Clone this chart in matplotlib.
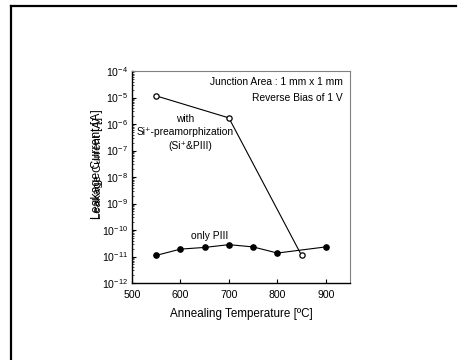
import matplotlib
matplotlib.use("Agg")
import matplotlib.pyplot as plt
from matplotlib.lines import Line2D
from matplotlib.ticker import LogLocator, NullFormatter, FixedLocator

plt.rcParams['font.family'] = ['Liberation Sans', 'DejaVu Sans']

# Data
temp_si = [550, 700, 850]
leak_si = [1.15e-5, 1.7e-6, 1.1e-11]
temp_piii = [550, 600, 650, 700, 750, 800, 900]
leak_piii = [1.1e-11, 1.9e-11, 2.2e-11, 2.8e-11, 2.3e-11, 1.35e-11, 2.3e-11]
xticks = [500, 600, 700, 800, 900]
yticks = [1e-12, 1e-11, 1e-10, 1e-9, 1e-8, 1e-7, 1e-6, 1e-5, 1e-4]

W, H = 465, 360
fig = plt.figure(figsize=(W / 100, H / 100), dpi=100)
L, R, T, B = 132, 350, 71, 283
ax = fig.add_axes([L / W, 1 - B / H, (R - L) / W, (B - T) / H])

ax.plot(temp_si, leak_si, '-o', color='black', lw=0.8, ms=3.8,
        mfc='white', mec='black', mew=0.9, zorder=3)
ax.plot(temp_piii, leak_piii, '-o', color='black', lw=0.8, ms=3.8,
        mfc='black', mec='black', zorder=2)

ax.set_yscale('log')
ax.set_xlim(500, 950)
ax.set_ylim(1e-12, 1e-4)
ax.xaxis.set_major_locator(FixedLocator(xticks))
ax.yaxis.set_major_locator(FixedLocator(yticks))
ax.yaxis.set_minor_locator(LogLocator(base=10, subs=range(2, 10), numticks=20))
ax.yaxis.set_minor_formatter(NullFormatter())
ax.tick_params(axis='both', which='both', direction='in', labelsize=7.6,
               top=False, right=False)
ax.tick_params(axis='x', which='major', pad=5)
ax.tick_params(axis='y', which='major', pad=3)
ax.tick_params(axis='both', which='major', length=3, width=0.8)
ax.tick_params(axis='y', which='minor', length=1.5, width=0.5)
for s in ['left', 'bottom']:
    ax.spines[s].set_linewidth(1.0)
for s in ['top', 'right']:
    ax.spines[s].set_color('#808080')
    ax.spines[s].set_linewidth(0.8)

ax.set_xlabel('Annealing Temperature [ºC]', fontsize=8.4, labelpad=6)

# overlapped y label as in reference
fig.text(97 / W, 1 - 219 / H, 'Leakage Current [A]', rotation=90,
         rotation_mode='anchor', ha='left', va='center', fontsize=8.8)
fig.text(98 / W, 1 - 219 / H, 'Leakage Current [A]', rotation=90,
         rotation_mode='anchor', ha='left', va='center', fontsize=8.2)

def px(x, y):
    return x / W, 1 - y / H

fig.text(*px(343, 82), 'Junction Area : 1 mm x 1 mm', ha='right', va='center', fontsize=7.4)
fig.text(*px(343, 98), 'Reverse Bias of 1 V', ha='right', va='center', fontsize=7.4)
fig.text(*px(185, 119), 'with', ha='center', va='center', fontsize=7.4)
fig.text(*px(185, 132), 'Si\u207a-preamorphization', ha='center', va='center', fontsize=7.4)
fig.text(*px(190, 146), '(Si\u207a&PIII)', ha='center', va='center', fontsize=7.4)
fig.text(*px(210, 236), 'only PIII', ha='center', va='center', fontsize=7.4)

# frame lines (left and top only)
fig.add_artist(Line2D([11 / W, 11 / W], [0, 1 - 6 / H], color='black', lw=1.6,
                      transform=fig.transFigure))
fig.add_artist(Line2D([11 / W, 456 / W], [1 - 6 / H, 1 - 6 / H], color='black', lw=1.6,
                      transform=fig.transFigure))

fig.savefig('out.png', dpi=100)
